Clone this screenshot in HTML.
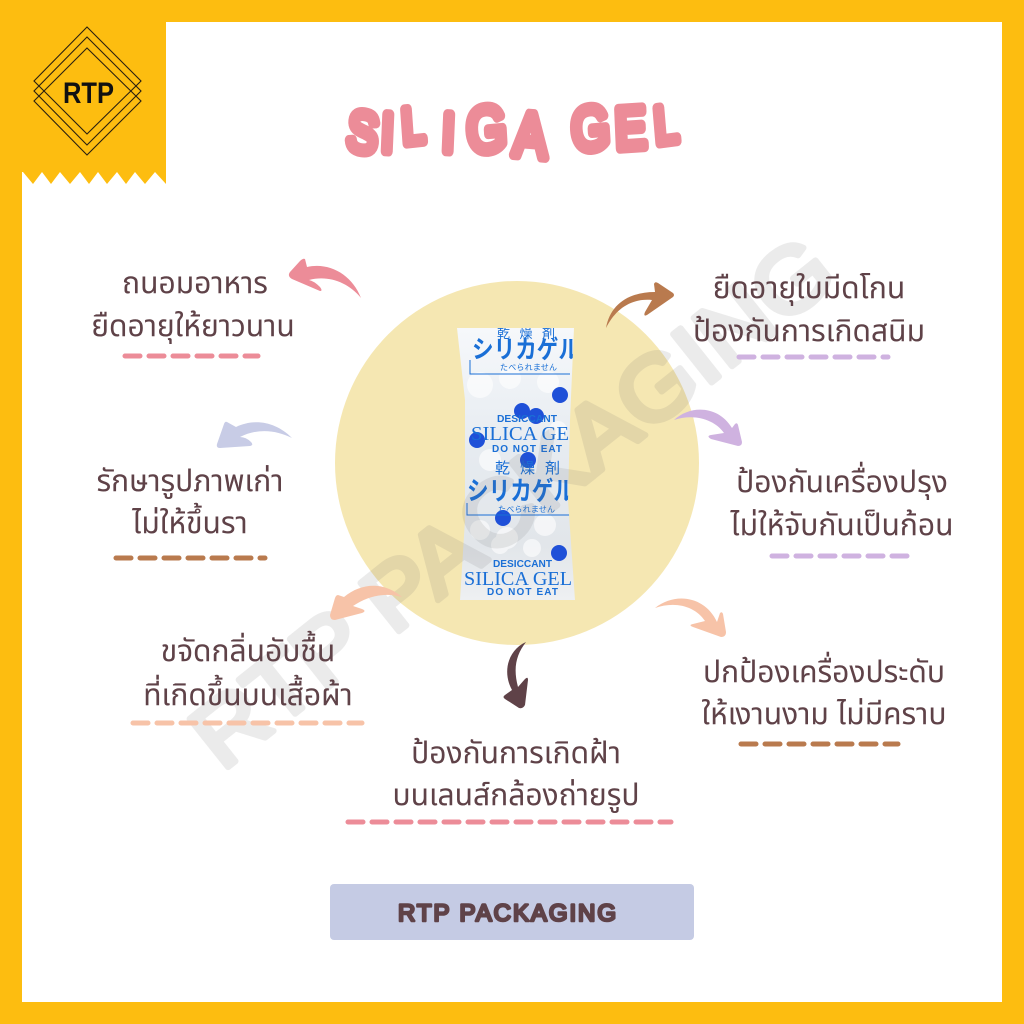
<!DOCTYPE html>
<html><head><meta charset="utf-8"><style>
html,body{margin:0;padding:0;background:#fff}
svg{display:block}
.t{font-family:"Liberation Sans","Noto Sans Thai","Noto Sans CJK JP",sans-serif;font-size:30px;fill:#5f4248;text-anchor:middle}
.d{fill:none;stroke-width:5;stroke-linecap:round;stroke-dasharray:15 9}
.p{font-family:"Liberation Sans",sans-serif;font-weight:700;font-size:10px}
.s{font-family:"Liberation Serif",serif;font-size:20px}
.j{font-family:"Liberation Sans","Noto Sans CJK JP",sans-serif}
</style></head><body>
<svg width="1024" height="1024" viewBox="0 0 1024 1024" xmlns="http://www.w3.org/2000/svg">
<defs>
<clipPath id="pk"><path d="M457 328L574 328 570 420 568 500 575 600 460 600 465 520 465 400Z"/></clipPath>
<linearGradient id="pg" x1="0" y1="0" x2="0" y2="1"><stop offset="0" stop-color="#f6f8fb"/><stop offset=".45" stop-color="#e6ebf0"/><stop offset=".8" stop-color="#e2e6ea"/><stop offset="1" stop-color="#eef0f2"/></linearGradient>
</defs>
<rect width="1024" height="1024" fill="#fdbd10"/>
<rect x="22" y="22" width="980" height="980" fill="#fff"/>
<path d="M0 0H166V184L155 172 145 184 135 172 126 184 117 172 107 184 98 172 89 184 80 172 70 184 60 172 51 184 42 172 33 184 23 172 22 172V1024H0Z" fill="#fdbd10"/>
<g fill="none" stroke="#2a2010" stroke-width="1.1">
<path d="M87 27L141 81 87 134 34 81Z"/><path d="M87 37L141 91 87 145 34 91Z"/><path d="M87 48L141 101 87 155 34 101Z"/>
</g>
<text x="63" y="103" font-family="Liberation Sans,sans-serif" font-weight="700" font-size="30" fill="#111" textLength="51" lengthAdjust="spacingAndGlyphs">RTP</text>

<circle cx="517" cy="463" r="182" fill="#f5e7b2"/>

<!-- packet -->
<path d="M457 328L574 328 570 420 568 500 575 600 460 600 465 520 465 400Z" fill="url(#pg)"/>
<g clip-path="url(#pk)">
<g fill="#fff" opacity=".6"><circle cx="480" cy="385" r="13"/><circle cx="510" cy="378" r="11"/><circle cx="548" cy="382" r="11"/><circle cx="490" cy="460" r="11"/><circle cx="545" cy="525" r="11"/><circle cx="507" cy="538" r="11"/><circle cx="532" cy="548" r="9"/><circle cx="480" cy="530" r="10"/><circle cx="558" cy="430" r="9"/><circle cx="500" cy="545" r="9"/></g>
<g fill="#1f50d8"><circle cx="560" cy="395" r="8"/><circle cx="522" cy="411" r="8"/><circle cx="536" cy="416" r="8"/><circle cx="477" cy="440" r="8"/><circle cx="528" cy="460" r="8"/><circle cx="503" cy="518" r="8"/><circle cx="559" cy="553" r="8"/></g>
<g fill="#1a6fd6">
<text class="j" x="497" y="338" font-size="13" textLength="58">乾 燥 剤</text>
<text class="j" x="472" y="358" font-size="25" font-weight="700" textLength="108" lengthAdjust="spacingAndGlyphs">シリカゲル</text>
<path d="M470 360V374H570" fill="none" stroke="#1a6fd6" stroke-width="1"/>
<text class="j" x="500" y="370" font-size="8" textLength="57">たべられません</text>
<text class="p" x="497" y="422" textLength="60" lengthAdjust="spacingAndGlyphs">DESICCANT</text>
<text class="s" x="471" y="440" textLength="98" lengthAdjust="spacingAndGlyphs">SILICA GE</text>
<text class="p" x="492" y="452" textLength="70">DO NOT EAT</text>
<text class="j" x="495" y="473" font-size="15" textLength="65">乾 燥 剤</text>
<text class="j" x="467" y="500" font-size="26" font-weight="700" textLength="108" lengthAdjust="spacingAndGlyphs">シリカゲル</text>
<path d="M467 503V515H570" fill="none" stroke="#1a6fd6" stroke-width="1"/>
<text class="j" x="498" y="512" font-size="8" textLength="57">たべられません</text>
<text class="p" x="493" y="567" textLength="59" lengthAdjust="spacingAndGlyphs">DESICCANT</text>
<text class="s" x="464" y="585" textLength="108" lengthAdjust="spacingAndGlyphs">SILICA GEL</text>
<text class="p" x="487" y="595" textLength="71">DO NOT EAT</text>
</g>
</g>

<!-- watermark -->
<g opacity=".12">
<text transform="translate(222,772) rotate(-38.5)" font-family="Liberation Sans,sans-serif" font-size="90" fill="#666" stroke="#666" stroke-width="6" stroke-linejoin="round" textLength="790" lengthAdjust="spacingAndGlyphs">RTP PACKAGING</text>
</g>

<!-- title -->
<g transform="scale(.8,1)" font-family="Liberation Sans,sans-serif" fill="#ec8c98" stroke="#ec8c98" stroke-width="10" stroke-linejoin="round" stroke-linecap="round">
<text><tspan x="432" y="149" font-size="57" rotate="8">S</tspan><tspan x="476" y="151" font-size="54" rotate="3">I</tspan><tspan x="504" y="144" font-size="50" rotate="-5">L</tspan><tspan x="552" y="151" font-size="54" rotate="3">I</tspan><tspan x="585" y="153" font-size="64" rotate="-4">G</tspan><tspan x="641" y="155" font-size="62" rotate="4">A</tspan><tspan x="716" y="151" font-size="61" rotate="-4">G</tspan><tspan x="770" y="149" font-size="58" rotate="-3">E</tspan><tspan x="820" y="144" font-size="52" rotate="-6">L</tspan></text>
</g>

<!-- arrows -->
<path d="M361 298C352 275 330 262 307 267L305 259Q303 258 300 261L290 272Q287 276 292 279L320 291Q323 291 320 287Q314 281 309 280C328 275 348 282 361 298Z" fill="#ec8c98"/>
<path d="M292 438C276 422 255 418 236 427L227 422Q225 421 224 424L217 444Q216 448 220 448L250 446Q254 445 251 442Q246 437 240 437C258 428 276 430 292 438Z" fill="#c8cce6"/>
<path d="M606 328C610 305 628 292 655 292L654 284Q655 281 658 283L673 293Q675 295 673 297L647 315Q643 317 645 312L652 300C630 298 615 310 606 328Z" fill="#b97a4e"/>
<path d="M674 420C690 405 718 405 732 428L735 424Q737 422 738 425L742 442Q742 446 738 446L711 439Q706 436 711 435L724 433C715 420 695 413 674 420Z" fill="#cfb2e0"/>
<path d="M402 597C385 582 362 582 344 597L338 595Q336 595 335 598L330 615Q330 620 335 620L362 613Q367 611 362 609L353 606C368 596 385 592 402 597Z" fill="#f7c3a8"/>
<path d="M655 608C675 592 705 596 717 622L720 613Q722 611 723 614L726 632Q726 637 721 637L693 627Q688 625 693 624L705 621C695 606 675 601 655 608Z" fill="#f7c3a8"/>
<path d="M526 642C508 650 502 672 512 690L505 695Q502 697 505 699L519 708Q523 709 525 705L528 680Q528 676 525 679L518 687C513 668 516 655 526 642Z" fill="#5f4248"/>

<!-- labels -->
<text class="t" x="195" y="293">ถนอมอาหาร</text>
<text class="t" x="193" y="336">ยืดอายุให้ยาวนาน</text>
<path class="d" d="M125 356H258" stroke="#ec8c98"/>
<text class="t" x="190" y="491">รักษารูปภาพเก่า</text>
<text class="t" x="190" y="533">ไม่ให้ขึ้นรา</text>
<path class="d" d="M116 558H265" stroke="#b97a4e"/>
<text class="t" x="248" y="661">ขจัดกลิ่นอับชื้น</text>
<text class="t" x="248" y="705">ที่เกิดขึ้นบนเสื้อผ้า</text>
<path class="d" d="M133 723H362" stroke="#f7c3a8"/>
<text class="t" x="809" y="298">ยืดอายุใบมีดโกน</text>
<text class="t" x="809" y="341">ป้องกันการเกิดสนิม</text>
<path class="d" d="M739 357H888" stroke="#cfb2e0"/>
<text class="t" x="842" y="492">ป้องกันเครื่องปรุง</text>
<text class="t" x="842" y="535">ไม่ให้จับกันเป็นก้อน</text>
<path class="d" d="M772 556H907" stroke="#cfb2e0"/>
<text class="t" x="824" y="682">ปกป้องเครื่องประดับ</text>
<text class="t" x="824" y="724">ให้เงานงาม ไม่มีคราบ</text>
<path class="d" d="M741 744H898" stroke="#b97a4e"/>
<text class="t" x="516" y="763">ป้องกันการเกิดฝ้า</text>
<text class="t" x="516" y="805">บนเลนส์กล้องถ่ายรูป</text>
<path class="d" d="M348 822H671" stroke="#ec8c98"/>

<rect x="330" y="884" width="364" height="56" rx="4" fill="#c5cbe4"/>
<text x="398" y="921" font-family="Liberation Sans,sans-serif" font-size="24" fill="#5f4248" stroke="#5f4248" stroke-width="2.6" stroke-linejoin="round" textLength="218" lengthAdjust="spacing">RTP PACKAGING</text>
</svg>
</body></html>
